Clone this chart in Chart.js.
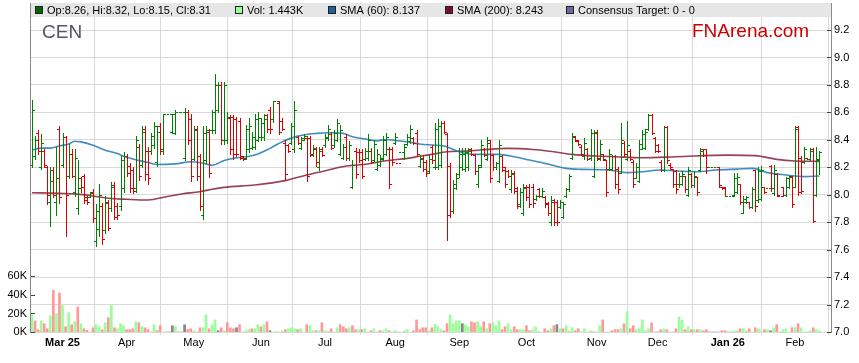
<!DOCTYPE html>
<html>
<head>
<meta charset="utf-8">
<title>CEN</title>
<script src="https://cdn.jsdelivr.net/npm/chart.js@4.4.1/dist/chart.umd.min.js"></script>
<style>
  body { margin: 0; background: #fff; }
  canvas { display: block; }
</style>
</head>
<body>
<canvas id="chart" width="859" height="363"></canvas>
<script>
// one slot per weekday, 17 Feb 2025 .. 12 Feb 2026 (holidays / no-trade days are flat bars)
var opens = [
  8.22, 8.28, 8.45, 8.20, 8.32, 8.20, 7.95, 8.18, 7.95, 8.48,
  8.22, 8.42, 8.14, 8.30, 8.02, 7.90, 8.12, 8.14, 7.98, 7.98,
  8.02, 7.66, 7.75, 7.92, 7.74, 7.94, 7.90, 8.07, 7.92, 7.92,
  8.05, 8.28, 8.21, 8.18, 8.05, 8.35, 8.22, 8.48, 8.32, 8.32,
  8.36, 8.24, 8.50, 8.32, 8.59, 8.59, 8.46, 8.45, 8.60, 8.60,
  8.27, 8.60, 8.55, 8.26, 8.48, 8.28, 7.85, 8.25, 8.46, 8.47,
  8.47, 8.62, 8.80, 8.40, 8.40, 8.56, 8.57, 8.55, 8.54, 8.28,
  8.27, 8.33, 8.34, 8.35, 8.40, 8.42, 8.42, 8.58, 8.62, 8.55,
  8.68, 8.67, 8.54, 8.38, 8.36, 8.38, 8.33, 8.42, 8.34, 8.41,
  8.41, 8.41, 8.29, 8.33, 8.20, 8.33, 8.36, 8.41, 8.44, 8.36,
  8.40, 8.30, 8.27, 8.42, 8.27, 8.06, 8.32, 8.31, 8.31, 8.26,
  8.27, 8.32, 8.25, 8.19, 8.22, 8.26, 8.30, 8.33, 8.33, 8.38,
  8.23, 8.31, 8.27, 8.37, 8.39, 8.41, 8.45, 8.21, 8.26, 8.24,
  8.17, 8.35, 8.20, 8.20, 8.22, 8.52, 8.44, 8.21, 7.88, 8.05,
  8.15, 8.20, 8.19, 8.20, 8.33, 8.29, 8.08, 8.22, 8.33, 8.26,
  8.38, 8.29, 8.20, 8.10, 8.28, 8.20, 8.17, 8.04, 8.16, 8.05,
  7.93, 7.87, 8.06, 8.06, 8.06, 7.97, 8.04, 7.99, 7.98, 7.94,
  7.80, 7.95, 7.95, 7.91, 7.84, 7.99, 8.04, 8.27, 8.42, 8.39,
  8.35, 8.28, 8.33, 8.27, 8.14, 8.46, 8.26, 8.30, 8.25, 8.19,
  8.19, 8.28, 8.19, 8.16, 8.38, 8.26, 8.32, 8.24, 8.12, 8.10,
  8.33, 8.34, 8.48, 8.58, 8.41, 8.36, 8.24, 8.18, 8.49, 8.22,
  8.19, 8.17, 8.08, 8.08, 8.14, 8.00, 8.15, 8.07, 8.13, 8.18,
  8.33, 8.33, 8.20, 8.20, 8.20, 8.20, 8.06, 8.06, 7.99, 7.99,
  8.00, 8.02, 8.08, 7.87, 7.95, 7.95, 7.91, 8.18, 7.96, 7.97,
  8.06, 8.05, 8.21, 8.01, 8.15, 7.99, 8.06, 8.00, 8.06, 8.14,
  8.06, 8.49, 8.27, 8.24, 8.27, 8.26, 8.33, 8.00, 8.26
];
var highs = [
  8.69, 8.43, 8.47, 8.44, 8.33, 8.21, 8.20, 8.20, 8.35, 8.50,
  8.45, 8.43, 8.37, 8.33, 8.33, 8.25, 8.13, 8.15, 7.99, 8.02,
  8.04, 7.93, 8.08, 7.94, 7.99, 7.96, 8.09, 8.09, 7.94, 8.28,
  8.31, 8.30, 8.23, 8.20, 8.43, 8.37, 8.50, 8.50, 8.35, 8.45,
  8.53, 8.50, 8.52, 8.59, 8.59, 8.59, 8.59, 8.62, 8.60, 8.60,
  8.63, 8.62, 8.59, 8.50, 8.50, 8.30, 8.50, 8.50, 8.48, 8.62,
  8.88, 8.82, 8.82, 8.82, 8.60, 8.58, 8.58, 8.57, 8.56, 8.28,
  8.51, 8.56, 8.46, 8.59, 8.60, 8.56, 8.59, 8.59, 8.64, 8.68,
  8.68, 8.68, 8.56, 8.40, 8.37, 8.52, 8.68, 8.43, 8.42, 8.44,
  8.43, 8.43, 8.36, 8.35, 8.35, 8.35, 8.44, 8.51, 8.46, 8.47,
  8.55, 8.51, 8.37, 8.44, 8.39, 8.25, 8.34, 8.33, 8.33, 8.34,
  8.44, 8.34, 8.40, 8.33, 8.29, 8.43, 8.45, 8.35, 8.35, 8.45,
  8.23, 8.31, 8.37, 8.44, 8.51, 8.42, 8.47, 8.29, 8.28, 8.25,
  8.29, 8.36, 8.52, 8.55, 8.54, 8.54, 8.45, 8.23, 8.11, 8.16,
  8.34, 8.34, 8.34, 8.34, 8.34, 8.30, 8.22, 8.40, 8.34, 8.42,
  8.40, 8.30, 8.24, 8.40, 8.29, 8.20, 8.18, 8.18, 8.17, 8.06,
  8.05, 8.08, 8.07, 8.08, 8.08, 8.00, 8.05, 8.05, 7.99, 7.95,
  7.99, 7.97, 7.96, 7.96, 7.95, 8.05, 8.15, 8.45, 8.43, 8.40,
  8.36, 8.41, 8.34, 8.48, 8.47, 8.47, 8.40, 8.30, 8.25, 8.33,
  8.29, 8.29, 8.20, 8.52, 8.39, 8.54, 8.33, 8.25, 8.23, 8.40,
  8.47, 8.48, 8.59, 8.59, 8.42, 8.37, 8.25, 8.50, 8.50, 8.23,
  8.19, 8.18, 8.16, 8.17, 8.14, 8.20, 8.16, 8.17, 8.13, 8.34,
  8.33, 8.33, 8.20, 8.20, 8.20, 8.20, 8.06, 8.06, 7.99, 7.99,
  8.16, 8.16, 8.08, 7.99, 7.99, 7.95, 8.06, 8.18, 8.20, 8.21,
  8.06, 8.05, 8.22, 8.22, 8.16, 7.99, 8.06, 8.13, 8.14, 8.14,
  8.50, 8.50, 8.28, 8.35, 8.27, 8.34, 8.34, 8.35, 8.32
];
var lows = [
  8.20, 8.26, 8.30, 8.19, 8.20, 7.93, 7.77, 7.98, 7.85, 7.94,
  8.20, 7.70, 8.12, 8.13, 7.99, 7.86, 8.02, 7.94, 7.93, 7.98,
  7.80, 7.63, 7.70, 7.64, 7.72, 7.74, 7.88, 7.82, 7.82, 7.89,
  8.02, 8.14, 8.02, 8.01, 8.02, 8.11, 8.20, 8.11, 8.08, 8.30,
  8.34, 8.21, 8.30, 8.30, 8.59, 8.59, 8.45, 8.44, 8.60, 8.60,
  8.25, 8.37, 8.10, 8.25, 8.11, 7.89, 7.82, 8.23, 8.13, 8.45,
  8.45, 8.60, 8.37, 8.37, 8.38, 8.30, 8.26, 8.28, 8.26, 8.25,
  8.26, 8.31, 8.33, 8.33, 8.39, 8.40, 8.40, 8.46, 8.45, 8.53,
  8.68, 8.44, 8.47, 8.11, 8.31, 8.37, 8.31, 8.37, 8.33, 8.40,
  8.10, 8.28, 8.28, 8.21, 8.18, 8.28, 8.35, 8.40, 8.33, 8.35,
  8.39, 8.29, 8.26, 8.25, 8.25, 8.05, 8.12, 8.24, 8.12, 8.25,
  8.25, 8.23, 8.24, 8.18, 8.21, 8.25, 8.29, 8.05, 8.22, 8.37,
  8.23, 8.31, 8.26, 8.36, 8.38, 8.37, 8.28, 8.20, 8.17, 8.14,
  8.16, 8.23, 8.19, 8.19, 8.20, 8.45, 7.67, 7.84, 7.87, 8.04,
  8.13, 8.18, 8.17, 8.18, 8.29, 8.15, 8.06, 8.20, 8.28, 8.25,
  8.09, 8.18, 8.19, 8.09, 8.17, 8.06, 8.13, 8.02, 8.01, 7.90,
  7.91, 7.85, 7.96, 7.91, 7.91, 7.96, 7.98, 7.98, 7.91, 7.85,
  7.78, 7.78, 7.78, 7.90, 7.83, 7.98, 8.03, 8.26, 8.39, 8.36,
  8.29, 8.26, 8.25, 8.25, 8.13, 8.25, 8.25, 8.25, 7.99, 8.18,
  8.18, 8.05, 8.01, 8.16, 8.28, 8.25, 8.25, 8.06, 8.12, 8.09,
  8.33, 8.33, 8.47, 8.44, 8.31, 8.31, 8.17, 8.17, 8.23, 8.19,
  8.06, 8.01, 8.06, 8.07, 8.02, 7.99, 8.06, 8.06, 8.00, 8.17,
  8.28, 8.16, 8.20, 8.20, 8.20, 8.06, 8.04, 7.99, 7.99, 7.99,
  7.99, 8.01, 7.93, 7.87, 7.94, 7.90, 7.90, 7.88, 7.95, 7.96,
  8.01, 8.05, 8.03, 8.00, 7.99, 7.99, 7.99, 7.99, 8.05, 7.91,
  8.06, 8.00, 8.01, 8.23, 8.26, 8.25, 7.80, 7.99, 8.15
];
var closes = [
  8.62, 8.40, 8.32, 8.38, 8.22, 8.00, 8.10, 8.00, 8.12, 7.98,
  8.42, 8.00, 8.30, 8.14, 8.27, 8.05, 8.06, 7.96, 7.95, 8.01,
  7.83, 7.88, 8.00, 7.68, 7.95, 7.76, 8.06, 7.84, 7.85, 8.25,
  8.28, 8.16, 8.05, 8.03, 8.40, 8.14, 8.46, 8.15, 8.12, 8.43,
  8.50, 8.46, 8.33, 8.59, 8.59, 8.59, 8.59, 8.60, 8.60, 8.60,
  8.60, 8.40, 8.14, 8.47, 8.14, 7.92, 8.45, 8.47, 8.16, 8.60,
  8.80, 8.80, 8.40, 8.80, 8.57, 8.33, 8.30, 8.30, 8.27, 8.26,
  8.48, 8.50, 8.42, 8.55, 8.56, 8.52, 8.55, 8.48, 8.48, 8.68,
  8.68, 8.46, 8.48, 8.15, 8.32, 8.50, 8.62, 8.38, 8.40, 8.43,
  8.14, 8.30, 8.34, 8.24, 8.32, 8.29, 8.42, 8.48, 8.34, 8.45,
  8.52, 8.47, 8.35, 8.27, 8.36, 8.22, 8.15, 8.25, 8.14, 8.32,
  8.40, 8.24, 8.37, 8.30, 8.27, 8.40, 8.42, 8.08, 8.24, 8.42,
  8.23, 8.31, 8.35, 8.42, 8.48, 8.38, 8.30, 8.27, 8.19, 8.16,
  8.26, 8.25, 8.48, 8.50, 8.52, 8.46, 7.85, 7.88, 8.08, 8.12,
  8.30, 8.30, 8.31, 8.32, 8.30, 8.17, 8.20, 8.36, 8.29, 8.40,
  8.12, 8.20, 8.23, 8.36, 8.18, 8.08, 8.14, 8.15, 8.03, 7.92,
  8.02, 8.05, 7.98, 7.93, 7.94, 7.99, 7.99, 8.03, 7.93, 7.87,
  7.96, 7.80, 7.80, 7.95, 7.93, 8.04, 8.14, 8.43, 8.40, 8.37,
  8.30, 8.38, 8.26, 8.45, 8.45, 8.27, 8.37, 8.26, 8.02, 8.30,
  8.28, 8.08, 8.04, 8.40, 8.30, 8.36, 8.26, 8.08, 8.20, 8.37,
  8.44, 8.46, 8.58, 8.45, 8.32, 8.32, 8.18, 8.49, 8.25, 8.20,
  8.08, 8.04, 8.14, 8.15, 8.04, 8.18, 8.07, 8.14, 8.02, 8.32,
  8.29, 8.20, 8.20, 8.20, 8.20, 8.07, 8.05, 7.99, 7.99, 7.99,
  8.12, 8.13, 7.95, 7.97, 7.98, 7.91, 8.04, 7.92, 8.17, 8.18,
  8.02, 8.05, 8.05, 8.18, 8.00, 7.99, 8.00, 8.12, 8.13, 7.93,
  8.48, 8.02, 8.03, 8.33, 8.26, 8.32, 7.81, 8.25, 8.31
];
// volume in thousands of shares
var volumes = [
  18.6, 12, 2.5, 12, 9, 3.5, 17.5, 45, 20, 42,
  28.5, 5.7, 20.7, 7.9, 11, 27, 9, 3.5, 1.8, 0,
  4.6, 7.9, 5.7, 2.5, 10, 15.4, 28.5, 4.6, 3.5, 9,
  6.8, 2.5, 2.5, 3.5, 11, 10, 5.7, 4.6, 2.5, 0,
  7.9, 1.4, 6.8, 0, 0, 0, 6.8, 5.7, 0, 0,
  7.9, 2.5, 3.5, 1.4, 0, 4.6, 4.6, 18.6, 3.5, 7.9,
  13, 1.4, 4.6, 1.4, 10, 4.6, 3.5, 4.6, 7.9, 0,
  1.4, 2.5, 3.5, 3.5, 7.9, 5.7, 7.9, 11, 1.4, 0,
  0, 0, 1.4, 2.5, 3.5, 4.6, 3.5, 2.5, 3.5, 0,
  7.9, 6.8, 1.4, 1.4, 1.4, 10, 1.4, 1.0, 3.5, 0,
  4.6, 7.9, 5.7, 3.5, 4.6, 6.8, 2.5, 2.5, 2.5, 3.5,
  0, 1.4, 3.5, 0, 1.4, 1.4, 3.5, 1.4, 0, 1.4,
  0, 0, 1.4, 2.5, 0, 1.4, 13, 2.5, 4.6, 4.6,
  1.4, 4.6, 7.9, 5.7, 2.5, 1.4, 9, 18.6, 9, 12,
  12, 9, 7.9, 5.7, 11, 10, 11, 5.7, 11, 3.5,
  9, 10, 6.8, 12, 2.5, 5.7, 9, 2.5, 5.7, 2.5,
  2.5, 2.5, 6.8, 1.4, 2.5, 5.7, 0, 0, 3.5, 1.4,
  3.5, 6.8, 7.9, 3.5, 3.5, 6.8, 1.4, 4.6, 1.4, 3.5,
  0, 3.5, 0, 1.4, 0, 0, 6.8, 13, 0, 0,
  1.4, 2.5, 2.5, 3.5, 9, 21.8, 3.5, 6.8, 2.5, 3.5,
  13, 1.4, 3.5, 10, 0, 0, 2.5, 3.5, 2.5, 0,
  0, 3.5, 16.4, 13, 2.5, 5.7, 2.5, 2.5, 2.5, 2.5,
  1.4, 2.5, 0, 0, 0, 0, 1.4, 1.4, 0, 0,
  1.4, 1.4, 3.5, 3.5, 1.4, 3.5, 0, 4.6, 3.5, 1.4,
  2.5, 2.5, 1.4, 4.6, 7.9, 0, 2.5, 3.5, 0, 4.6,
  4.6, 9, 4.6, 0, 0, 1.4, 4.6, 2.5, 1.443
];
// moving averages at a few slots
var sma60At = [0, 3, 6, 9, 12, 14, 16, 20, 24, 28, 30, 34, 38, 41, 47, 52, 56, 59, 63, 66, 73, 78, 82, 87, 93, 98, 102, 105, 110, 113, 116, 119, 123, 127, 131, 135, 140, 145, 153, 158, 163, 169, 175, 180, 189, 195, 200, 206, 211, 218, 224, 231, 236, 241, 247, 253, 258];
var sma60 = [8.325, 8.34, 8.34, 8.355, 8.37, 8.39, 8.385, 8.36, 8.325, 8.30, 8.28, 8.255, 8.235, 8.22, 8.225, 8.24, 8.23, 8.215, 8.25, 8.265, 8.289, 8.338, 8.386, 8.427, 8.447, 8.452, 8.447, 8.422, 8.403, 8.393, 8.403, 8.395, 8.386, 8.37, 8.362, 8.355, 8.313, 8.294, 8.294, 8.277, 8.253, 8.224, 8.192, 8.185, 8.18, 8.161, 8.168, 8.18, 8.173, 8.168, 8.18, 8.187, 8.192, 8.161, 8.144, 8.132, 8.137];
var sma200At = [0, 9, 14, 20, 25, 31, 38, 44, 49, 55, 59, 63, 73, 83, 90, 97, 103, 110, 116, 123, 127, 131, 136, 142, 147, 156, 164, 171, 177, 185, 191, 200, 211, 228, 237, 244, 250, 258];
var sma200 = [8.015, 8.01, 8.006, 7.991, 7.974, 7.967, 7.962, 7.986, 8.006, 8.022, 8.04, 8.054, 8.071, 8.103, 8.144, 8.18, 8.209, 8.224, 8.248, 8.265, 8.28, 8.294, 8.313, 8.318, 8.326, 8.338, 8.33, 8.313, 8.294, 8.282, 8.277, 8.27, 8.277, 8.289, 8.285, 8.258, 8.246, 8.243];
var monthTicks = [10, 31, 53, 75, 96, 119, 140, 162, 185, 205, 228, 250];
var monthLabels = ['Mar 25', 'Apr', 'May', 'Jun', 'Jul', 'Aug', 'Sep', 'Oct', 'Nov', 'Dec', 'Jan 26', 'Feb'];
var priceTicks = [7.0, 7.2, 7.4, 7.6, 7.8, 8.0, 8.2, 8.4, 8.6, 8.8, 9.0, 9.2];
var volumeTicks = [0, 20, 40, 60];

var FONT = '"Liberation Sans", Arial, sans-serif';
var UP = '#008000', DOWN = '#dd0000';

function barColor(i) {
  if (closes[i] > opens[i]) return UP;
  if (closes[i] < opens[i]) return DOWN;
  if (i > 0 && closes[i] < closes[i - 1]) return DOWN;
  return UP;
}
function volColor(i) {
  if (i === 0) return barColor(0) === UP ? '#99ff99' : '#ff9999';
  if (closes[i] > closes[i - 1]) return '#99ff99';
  if (closes[i] < closes[i - 1]) return '#ff9999';
  return '#888888';
}

var volPoints = volumes.map(function (v, i) { return { x: i, y: v }; });
var volColors = volumes.map(function (v, i) { return volColor(i); });
var sma60Points = sma60At.map(function (x, k) { return { x: x, y: sma60[k] }; });
var sma200Points = sma200At.map(function (x, k) { return { x: x, y: sma200[k] }; });

// open/high/low/close bars drawn with the chart's own scales
var ohlcBars = {
  id: 'ohlcBars',
  afterDatasetsDraw: function (chart) {
    var ctx = chart.ctx, a = chart.chartArea;
    var xs = chart.scales.x, ys = chart.scales.y;
    ctx.save();
    ctx.beginPath();
    ctx.rect(a.left, a.top, a.right - a.left, a.bottom - a.top);
    ctx.clip();
    ctx.lineWidth = 1;
    for (var i = 0; i < closes.length; i++) {
      var px = Math.round(xs.getPixelForValue(i)) + 0.5;
      var yh = Math.round(ys.getPixelForValue(highs[i]));
      var yl = Math.round(ys.getPixelForValue(lows[i]));
      var yo = Math.round(ys.getPixelForValue(opens[i])) + 0.5;
      var yc = Math.round(ys.getPixelForValue(closes[i])) + 0.5;
      ctx.strokeStyle = barColor(i);
      ctx.beginPath();
      if (yl > yh) {
        ctx.moveTo(px, yh);
        ctx.lineTo(px, yl + 1);
      }
      ctx.moveTo(px - 2.5, yo);
      ctx.lineTo(px - 0.5, yo);
      ctx.moveTo(px + 0.5, yc);
      ctx.lineTo(px + 2.5, yc);
      ctx.stroke();
    }
    ctx.restore();
  }
};

var decor = {
  id: 'decor',
  afterDraw: function (chart) {
    var ctx = chart.ctx, a = chart.chartArea;
    var ys = chart.scales.y, yv = chart.scales.yv;
    var n = closes.length - 1;
    ctx.save();
    // legend strip
    ctx.fillStyle = '#e6e6e6';
    ctx.fillRect(a.left, 3, a.right - a.left, a.top - 3);
    // frame
    ctx.strokeStyle = '#8a8a8a';
    ctx.lineWidth = 1;
    ctx.beginPath();
    ctx.moveTo(a.left - 0.5, 3);
    ctx.lineTo(a.left - 0.5, a.bottom + 1);
    ctx.moveTo(a.right + 0.5, 3);
    ctx.lineTo(a.right + 0.5, a.bottom + 1);
    ctx.stroke();
    // inner tick marks
    ctx.strokeStyle = '#444';
    ctx.beginPath();
    priceTicks.forEach(function (v) {
      var y = Math.round(ys.getPixelForValue(v)) + 0.5;
      ctx.moveTo(a.right - 4, y);
      ctx.lineTo(a.right, y);
    });
    volumeTicks.forEach(function (v) {
      var y = Math.round(yv.getPixelForValue(v)) + 0.5;
      ctx.moveTo(a.left, y);
      ctx.lineTo(a.left + 4, y);
    });
    ctx.stroke();

    // legend items
    var items = [
      { x: 35, c: '#006600', t: 'Op:' + opens[n].toFixed(2) + ', Hi:' + highs[n].toFixed(2) + ', Lo:' + lows[n].toFixed(2) + ', Cl:' + closes[n].toFixed(2) },
      { x: 235, c: '#99ff99', t: 'Vol: ' + volumes[n].toFixed(3) + 'K' },
      { x: 328, c: '#1f5f9a', t: 'SMA (60): ' + sma60[sma60.length - 1].toFixed(3) },
      { x: 445, c: '#7a1030', t: 'SMA (200): ' + sma200[sma200.length - 1].toFixed(3) },
      { x: 566, c: '#6a6a9a', t: 'Consensus Target: 0 - 0' }
    ];
    ctx.font = '11px ' + FONT;
    ctx.textBaseline = 'middle';
    ctx.textAlign = 'left';
    items.forEach(function (it) {
      ctx.fillStyle = it.c;
      ctx.fillRect(it.x, 6, 8, 8);
      ctx.strokeStyle = '#222';
      ctx.strokeRect(it.x + 0.5, 6.5, 7, 7);
      ctx.fillStyle = '#000';
      ctx.fillText(it.t, it.x + 12, 10.5);
    });

    // titles
    ctx.font = '19px ' + FONT;
    ctx.fillStyle = '#555568';
    ctx.fillText('CEN', 42, 33);
    ctx.fillStyle = '#cc0000';
    ctx.fillText('FNArena.com', 692, 32);
    ctx.restore();
  }
};

var ctx = document.getElementById('chart').getContext('2d');
new Chart(ctx, {
  type: 'line',
  data: {
    datasets: [
      {
        type: 'line', label: 'SMA (60)', data: sma60Points, yAxisID: 'y',
        borderColor: 'rgba(31,119,180,0.85)', borderWidth: 1.6, pointRadius: 0,
        cubicInterpolationMode: 'monotone', order: 1
      },
      {
        type: 'line', label: 'SMA (200)', data: sma200Points, yAxisID: 'y',
        borderColor: 'rgba(128,16,48,0.8)', borderWidth: 1.6, pointRadius: 0,
        cubicInterpolationMode: 'monotone', order: 2
      },
      {
        type: 'bar', label: 'Vol', data: volPoints, yAxisID: 'yv',
        backgroundColor: volColors, barThickness: 2, order: 3
      }
    ]
  },
  options: {
    responsive: false,
    animation: false,
    layout: { padding: { top: 17, left: 0, right: 0, bottom: 0 } },
    plugins: { legend: { display: false }, tooltip: { enabled: false } },
    scales: {
      x: {
        type: 'linear', min: -0.33, max: 261.8, offset: false,
        afterBuildTicks: function (s) { s.ticks = monthTicks.map(function (v) { return { value: v }; }); },
        afterFit: function (s) { s.height = 31; },
        grid: { color: '#d9d9d9', tickLength: 3, drawTicks: true },
        border: { display: false },
        ticks: {
          autoSkip: false, maxRotation: 0, padding: 1, color: '#000',
          callback: function (v) { var k = monthTicks.indexOf(v); return k < 0 ? '' : monthLabels[k]; },
          font: function (c) {
            var bold = c.tick && typeof c.tick.label === 'string' && c.tick.label.indexOf(' ') > 0;
            return { family: FONT, size: 11, weight: bold ? 'bold' : 'normal' };
          }
        }
      },
      y: {
        type: 'linear', position: 'right', min: 7, max: 9.295,
        afterBuildTicks: function (s) { s.ticks = priceTicks.map(function (v) { return { value: v }; }); },
        afterFit: function (s) { s.width = 28; },
        grid: { color: '#d9d9d9', drawTicks: false },
        border: { display: false },
        ticks: { padding: 3, color: '#000', font: { family: FONT, size: 11 },
          callback: function (v) { return Number(v).toFixed(1); } }
      },
      yv: {
        type: 'linear', position: 'left', min: 0, max: 340,
        afterBuildTicks: function (s) { s.ticks = volumeTicks.map(function (v) { return { value: v }; }); },
        afterFit: function (s) { s.width = 31; },
        grid: { display: false, drawTicks: false },
        border: { display: false },
        ticks: { padding: 4, color: '#000', font: { family: FONT, size: 11 },
          callback: function (v) { return v + 'K'; } }
      }
    }
  },
  plugins: [ohlcBars, decor]
});
</script>
</body>
</html>
